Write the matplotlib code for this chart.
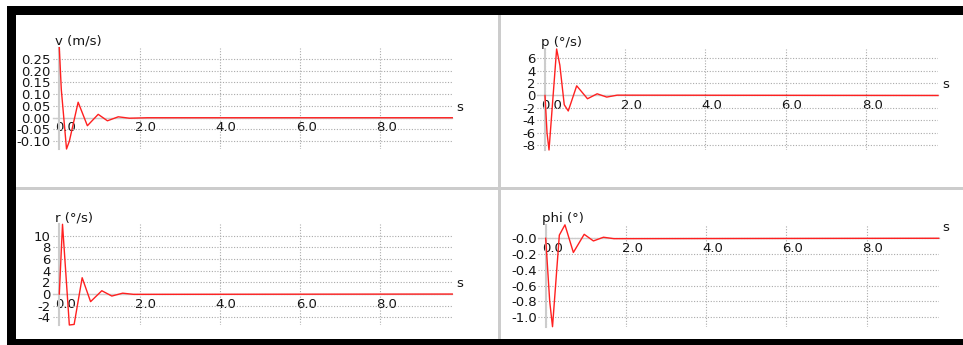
import matplotlib
matplotlib.use("Agg")
import matplotlib.pyplot as plt
from matplotlib.patches import Rectangle
from matplotlib.transforms import offset_copy, blended_transform_factory

W, H = 963, 345

# time axis ticks
x_ticks = [0, 2, 4, 6, 8]
x_tick_labels = ["0.0", "2.0", "4.0", "6.0", "8.0"]

# v (m/s)
t_v = [0, 0.05, 0.18, 0.25, 0.47, 0.70, 0.97, 1.20, 1.47, 1.75, 2.2, 9.8]
v = [0.298, 0.12, -0.133, -0.10, 0.066, -0.034, 0.0145, -0.013, 0.004, -0.002, 0, 0]
v_ticks = [0.25, 0.20, 0.15, 0.10, 0.05, 0.0, -0.05, -0.10]
v_labels = ["0.25", "0.20", "0.15", "0.10", "0.05", "0.00", "-0.05", "-0.10"]

# p (deg/s)
t_p = [0, 0.05, 0.10, 0.29, 0.37, 0.48, 0.58, 0.79, 1.06, 1.30, 1.54, 1.8, 9.8]
p = [0, -6.0, -8.8, 7.5, 4.9, -1.5, -2.5, 1.56, -0.53, 0.27, -0.26, 0.05, 0]
p_ticks = [6, 4, 2, 0, -2, -4, -6, -8]
p_labels = ["6", "4", "2", "0", "-2", "-4", "-6", "-8"]

# r (deg/s)
t_r = [0, 0.08, 0.25, 0.37, 0.57, 0.78, 1.06, 1.31, 1.58, 1.85, 9.8]
r = [0, 11.95, -5.3, -5.2, 2.8, -1.3, 0.57, -0.34, 0.15, -0.05, 0]
r_ticks = [10, 8, 6, 4, 2, 0, -2, -4]
r_labels = ["10", "8", "6", "4", "2", "0", "-2", "-4"]

# phi (deg)
t_phi = [0, 0.10, 0.17, 0.34, 0.48, 0.69, 0.96, 1.19, 1.44, 1.7, 9.8]
phi = [0, -0.8, -1.12, 0.04, 0.17, -0.18, 0.05, -0.034, 0.013, -0.005, 0]
phi_ticks = [0, -0.2, -0.4, -0.6, -0.8, -1.0]
phi_labels = ["-0.0", "-0.2", "-0.4", "-0.6", "-0.8", "-1.0"]

TEXT = "#151515"
GRID = "#aaaaaa"
AXIS = "#cccccc"
FS = 9.5

plt.rcParams['font.family'] = ['DejaVu Sans']

fig = plt.figure(figsize=(W / 100, H / 100), dpi=100)


def px_rect(x0, y0, x1, y1, color):
    # rectangle given in pixel coords, origin top-left
    fig.patches.append(Rectangle((x0 / W, 1 - y1 / H), (x1 - x0) / W, (y1 - y0) / H,
                                 transform=fig.transFigure, facecolor=color,
                                 edgecolor='none', zorder=0))


# frame and separators
px_rect(7, 6, W, 15, "black")
px_rect(7, 6, 16, H, "black")
px_rect(7, 339, W, H, "black")
px_rect(498, 15, 501, 339, AXIS)
px_rect(16, 187, W, 190, AXIS)


def panel(x_axis, ytop, ybot, xleft, xlim, ylim, t, y, yticks, ylabels, name):
    x0 = x_axis + xleft * 40.1
    x1 = x_axis + xlim[1] * 40.1
    ax = fig.add_axes([x0 / W, 1 - ybot / H, (x1 - x0) / W, (ybot - ytop) / H])
    ax.set_facecolor('none')
    ax.set_xlim(xleft, xlim[1])
    ax.set_ylim(*ylim)
    for side in ['top', 'right']:
        ax.spines[side].set_visible(False)
    ax.spines['left'].set_position(('data', 0))
    ax.spines['bottom'].set_position(('data', 0))
    ax.spines['left'].set_color(AXIS)
    ax.spines['left'].set_linewidth(1.5)
    ax.spines['bottom'].set_color(AXIS)
    ax.spines['bottom'].set_linewidth(1.0)

    ax.set_xticks(x_ticks)
    ax.set_xticklabels(x_tick_labels)
    ax.set_yticks(yticks)
    ax.set_yticklabels(ylabels)
    ax.tick_params(axis='both', length=0, labelsize=FS, labelcolor=TEXT)
    ax.tick_params(axis='y', pad=6.5)
    ax.tick_params(axis='x', pad=2.5)
    for lab in ax.get_xticklabels():
        lab.set_horizontalalignment('left')
        lab.set_transform(offset_copy(lab.get_transform(), fig=fig, x=-4, y=0, units='dots'))

    ax.grid(True, linestyle=(0, (1, 1.5)), color=GRID, linewidth=0.8)
    ax.set_axisbelow(True)

    ax.plot(t, y, color='#ff2020', linewidth=1.0, clip_on=False, zorder=3)

    # axis titles
    tr_top = blended_transform_factory(ax.transData, ax.transAxes)
    ax.text(0, 1, name, transform=offset_copy(tr_top, fig=fig, x=-4, y=0, units='dots'),
            ha='left', va='bottom', fontsize=FS, color=TEXT)
    tr_s = blended_transform_factory(ax.transAxes, ax.transData)
    ax.text(1, 0, "s", transform=offset_copy(tr_s, fig=fig, x=4, y=10.5, units='dots'),
            ha='left', va='center', fontsize=FS, color=TEXT)
    return ax


panel(59.3, 47.7, 149, -0.15, (0, 9.8), (-0.133, 0.298), t_v, v, v_ticks, v_labels, "v (m/s)")
panel(545.0, 49, 150, -0.2, (0, 9.8), (-8.8, 7.5), t_p, p, p_ticks, p_labels, "p (°/s)")
panel(59.3, 224.3, 325, -0.15, (0, 9.8), (-5.3, 11.95), t_r, r, r_ticks, r_labels, "r (°/s)")
panel(545.7, 225, 326.7, -0.2, (0, 9.8), (-1.12, 0.168), t_phi, phi, phi_ticks, phi_labels, "phi (°)")

fig.savefig("out.png", dpi=100)
